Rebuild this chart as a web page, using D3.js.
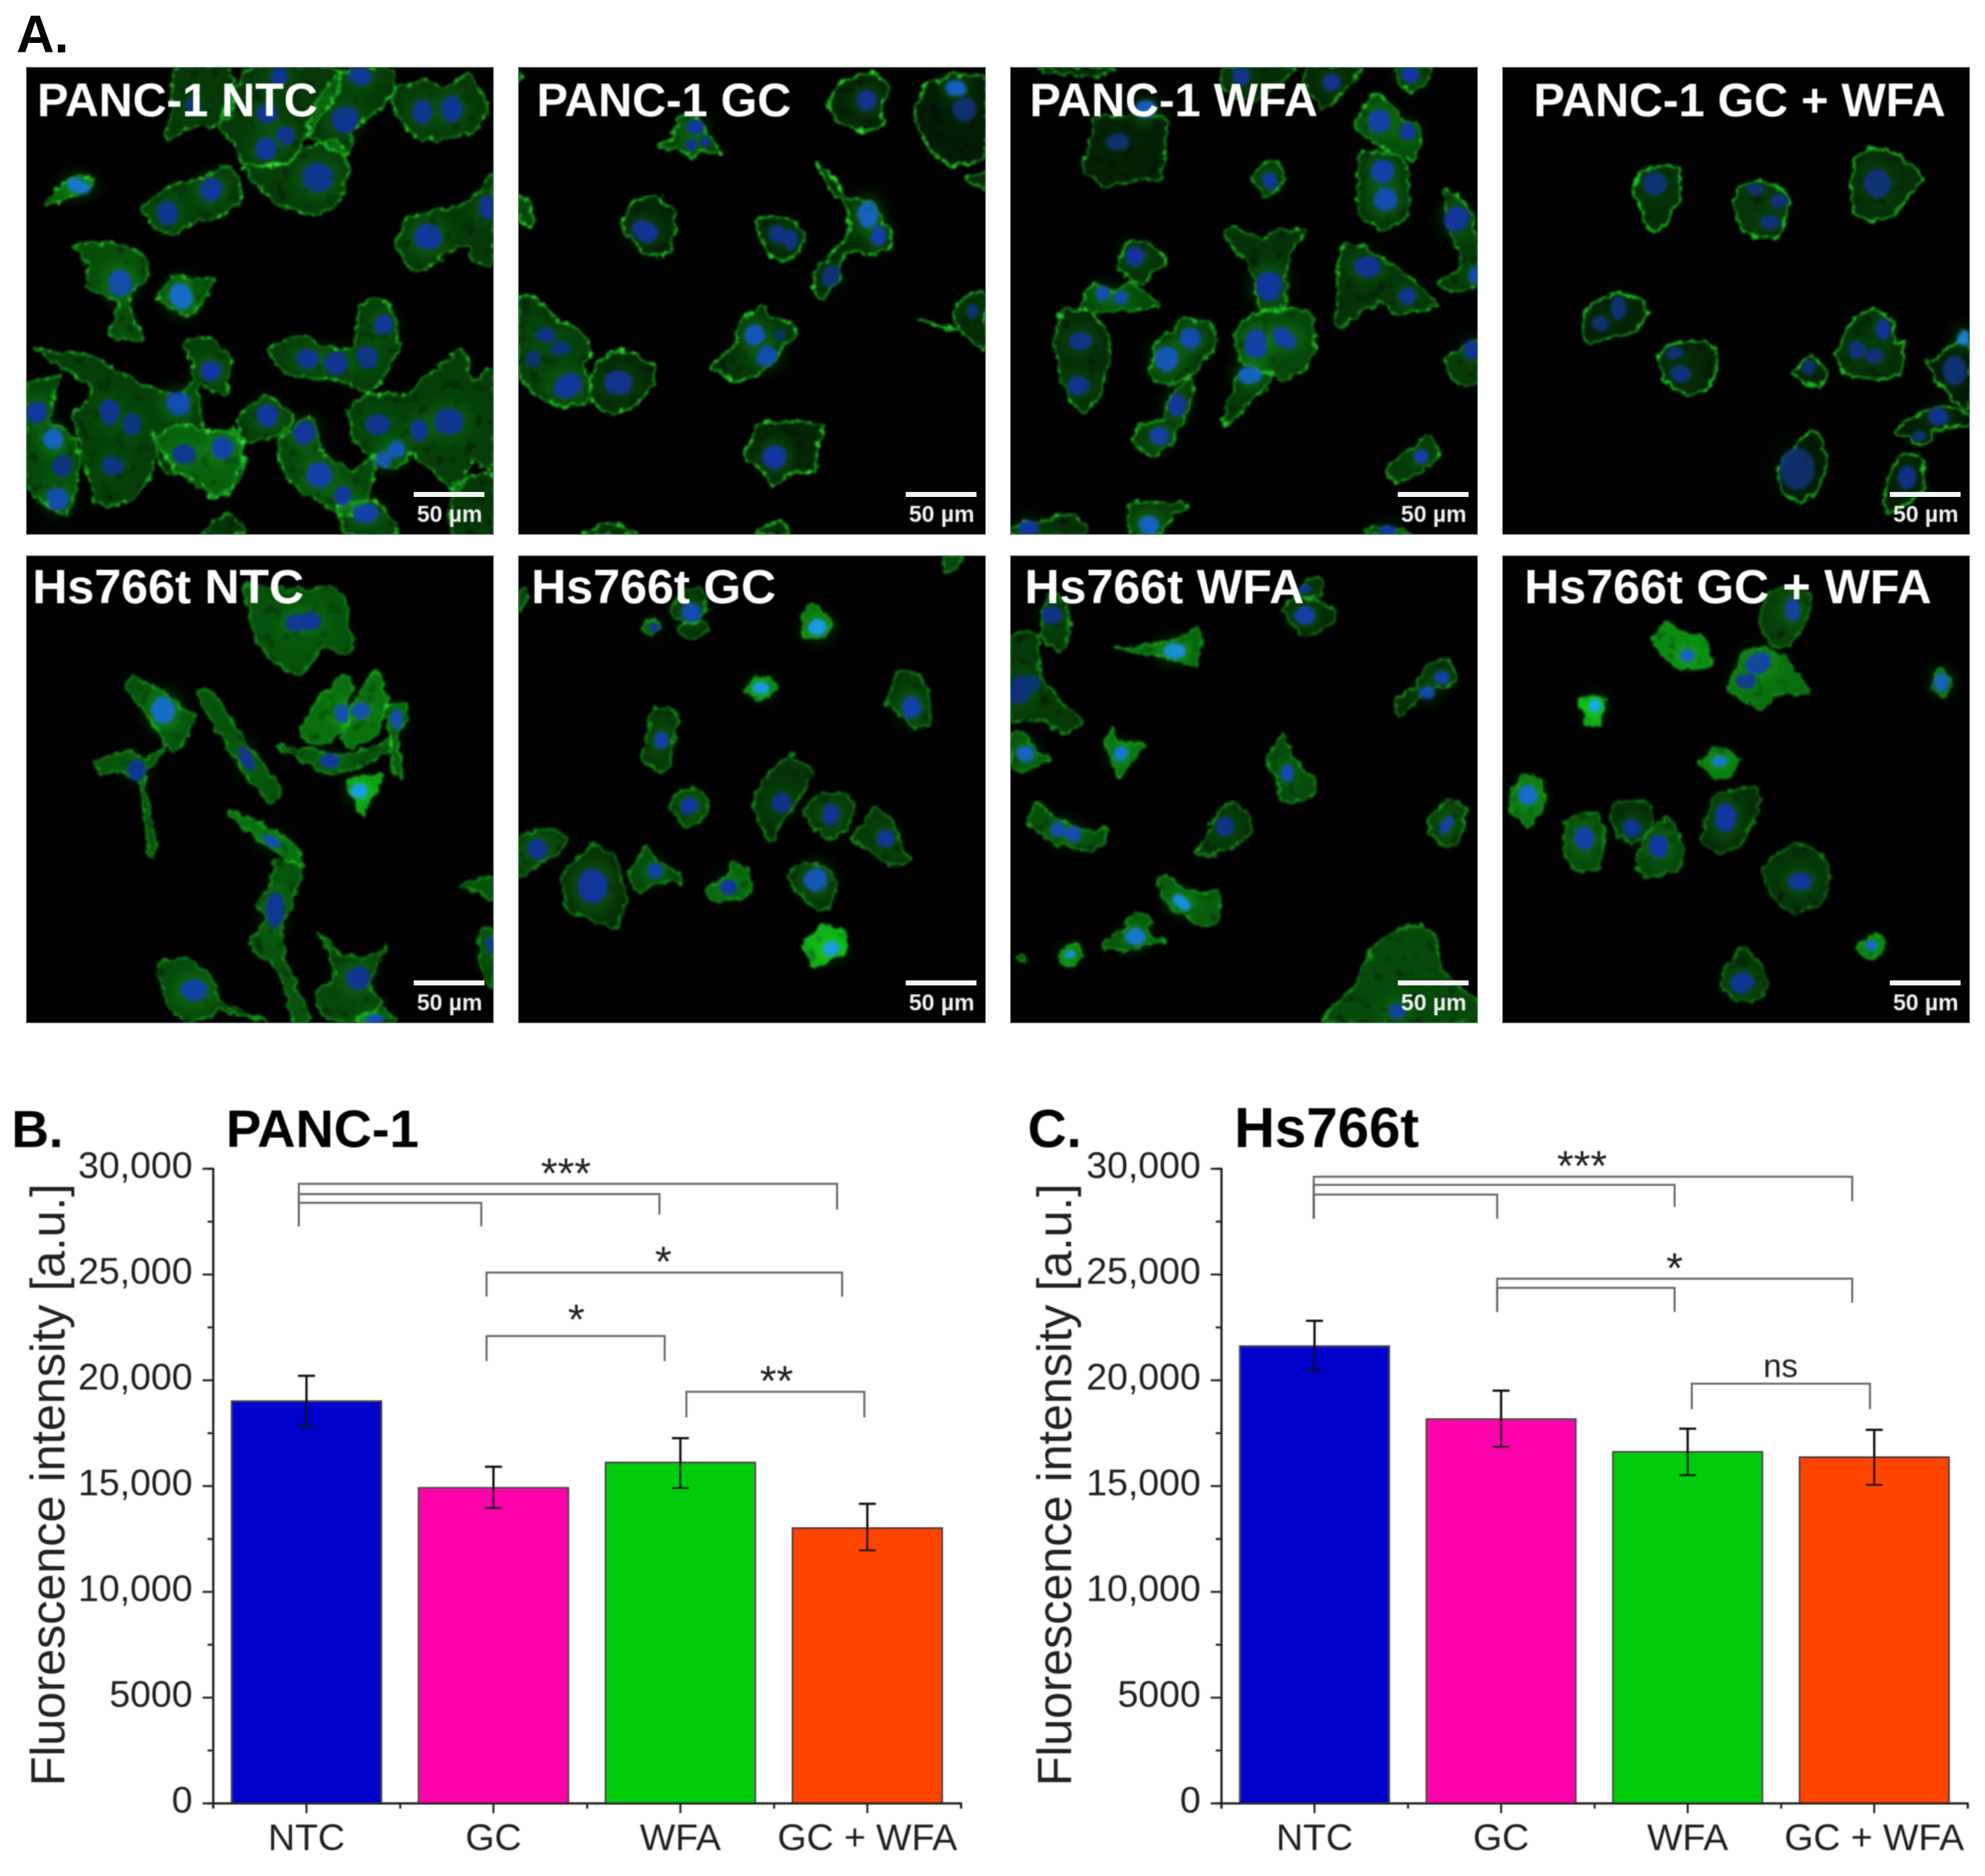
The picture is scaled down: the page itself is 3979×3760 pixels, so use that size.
<!DOCTYPE html>
<meta charset="utf-8">
<style type="text/css">
  body { margin: 0; background: #fff; }
  text { font-family: "Liberation Sans", Arial, sans-serif; }
  .axis path, .axis line { stroke: #222; stroke-width: 4; }
  .axis text { font-size: 75px; fill: #222; }
</style>
<body></body>
<script src="https://d3js.org/d3.v7.min.js"></script>
<script>

// bar chart values
var categories = ["NTC", "GC", "WFA", "GC + WFA"];
var barColors = ["#0000cc", "#ff00aa", "#00cc11", "#ff4400"];
var yMajorTicks = [0, 5000, 10000, 15000, 20000, 25000, 30000];
var yMinorTicks = [2500, 7500, 12500, 17500, 22500, 27500];

var panc1Means = [19000, 14900, 16100, 13000];
var panc1Upper = [20200, 15900, 17250, 14150];
var panc1Lower = [17800, 13950, 14900, 11950];
var hs766tMeans = [21600, 18150, 16600, 16350];
var hs766tUpper = [22800, 19500, 17700, 17650];
var hs766tLower = [20450, 16850, 15500, 15050];

// brackets: from / to in category position, top value, left foot, right foot
var panc1Brackets = [
  [-0.041, 2.838, 29274, 27264, 28063],
  [-0.041, 1.888, 28789, 27264, 27821],
  [-0.041, 0.935, 28378, 27264, 27264],
  [0.963, 2.865, 25085, 23947, 23947],
  [0.963, 1.916, 22082, 20896, 20896],
  [2.032, 2.984, 19443, 18232, 18232]
];
var panc1Marks = [["***", 1.388, 30048], ["*", 1.909, 25884], ["*", 1.443, 23148], ["**", 2.514, 20242]];
var hs766tBrackets = [
  [-0.004, 2.882, 29613, 27627, 28450],
  [-0.004, 1.930, 29225, 27627, 28184],
  [-0.004, 0.979, 28765, 27627, 27627],
  [0.979, 2.882, 24794, 23220, 23656],
  [0.979, 1.930, 24358, 23220, 23220],
  [2.022, 2.977, 19830, 18620, 18620]
];
var hs766tMarks = [["***", 1.434, 30412], ["*", 1.930, 25569], ["ns", 2.498, 20557]];

// micrographs, in image units 0-157
// cell = [fill level, x,y, x,y, ...]   nucleus = [x, y, rx, ry, angle, level]
var cellsPanc1Ntc = [
  [.3, 50,0, 68,0, 70,12, 66,19, 55,20, 47,24, 49,12],
  [.3, 65,19, 75,0, 102,0, 106,6, 100,15, 95,22, 90,30, 85,33, 73,32, 70,26],
  [.32, 73,33, 85,33, 92,28, 103,24, 107,28, 108,35, 106,44, 100,49, 93,49, 85,46, 80,42],
  [.3, 100,8, 105,2, 122,0, 124,8, 120,13, 110,21, 108,30, 100,26, 94,22],
  [.3, 123,8, 135,4, 141,7, 148,2, 155,12, 152,20, 142,24, 132,24, 125,17],
  [.32, 39,47, 48,40, 58,38, 68,33, 72,38, 72,44, 66,50, 56,52, 50,56, 44,55, 41,50],
  [.5, 6,46, 10,41, 15,37, 20,37, 23,38, 19,42, 10,46],
  [.42, 16,60, 25,59, 33,60, 40,64, 41,70, 35,76, 36,85, 39,90, 39,92, 30,91, 28,90, 31,80, 27,77, 20,74, 21,67],
  [.42, 44,77, 49,70, 55,71, 63,72, 58,80, 55,84, 50,82],
  [.3, 124,60, 128,51, 140,48, 148,45, 155,38, 157,36, 157,66, 150,64, 148,60, 140,63, 136,67, 130,68],
  [.33, 82,94, 94,90, 100,94, 110,94, 112,80, 120,78, 124,85, 125,95, 120,104, 115,110, 105,105, 90,104, 84,100],
  [.33, 3,95, 15,96, 22,97, 30,102, 40,107, 47,110, 52,113, 56,100, 52,93, 60,91, 68,97, 67,110, 58,107, 60,122, 72,122, 72,135, 64,145, 50,135, 42,123, 44,130, 38,143, 28,148, 23,146, 20,135, 16,117, 22,108],
  [.38, 0,108, 10,104, 12,103, 8,118, 16,125, 18,135, 14,150, 8,148, 0,140],
  [.25, 44,125, 50,120, 60,122, 72,124, 73,136, 65,145, 56,138, 46,135],
  [.32, 72,117, 80,110, 87,115, 90,118, 84,124, 72,126],
  [.38, 85,125, 95,118, 99,125, 100,130, 110,135, 118,130, 113,150, 105,150, 92,142, 86,135],
  [.33, 108,115, 115,110, 128,110, 135,103, 147,95, 150,105, 157,102, 157,135, 150,132, 145,143, 130,130, 125,135, 118,133, 110,125],
  [.33, 105,147, 118,146, 125,157, 108,157],
  [.28, 60,157, 67,150, 74,157],
  [.3, 144,140, 157,137, 157,157, 143,157]
];
var nucleiPanc1Ntc = [
  [112,3,4,3,0,.45], [107,17.5,4.5,4.5,0,.4], [133,15,3.3,4,0,.4], [143,14,3.5,4.5,0,.4], [81,15.5,3.5,3.5,0,.4], [87,23,3,3.3,0,.4],
  [80.5,27.5,3.5,4,0,.45], [98,37,5.3,5,0,.4], [62,41,3.8,3.8,0,.5], [47.5,49,3.5,4,0,.4], [17.5,40,4,2.5,20,.8], [31.5,72.5,4,4.5,0,.6],
  [52,77,3.7,4.5,-20,.75], [135,57,4.5,4.5,0,.5], [155,47,3,4,0,.4], [120,86.5,3.3,3.2,0,.45], [94.5,98,3.8,3.3,0,.4], [104,99.5,4,4,0,.4],
  [114.5,97.5,3.5,4,-20,.35], [62,102,3.5,3.3,0,.5], [51,113,4.2,4,0,.6], [81,117,3.5,3.8,0,.5], [3.5,116,3.5,3.7,0,.5], [9,125,3.3,3.5,0,.7],
  [28,116,3.5,4.5,0,.35], [35.5,120,3.2,3.8,0,.3], [12,134,3.5,3.7,0,.3], [10.5,145,3.8,3.7,0,.6], [29,134,3.8,3.2,0,.3], [53,130,4,3.2,0,.4],
  [66,128,3.8,3.8,0,.55], [93.5,123,3.7,3.8,0,.5], [118,120,4.3,3.6,0,.35], [132,122,3,3.7,0,.4], [142,119,5,4.5,0,.4], [124.5,128.5,3,2.8,0,.65],
  [120,132,2.7,2.8,0,.65], [98.5,137,4.3,4.3,0,.55], [106.5,144,3,3.2,0,.5], [114,150,4.3,3.3,0,.55], [85,3,3,3,0,.4], [56,13,2.5,3,0,.3]
];

var cellsPanc1Gc = [
  [.4, 54,16, 60,17, 64,23, 68,29, 60,28, 58,31, 56,28, 47,27, 53,22],
  [.2, 104,13, 108,5, 118,2, 125,6, 122,14, 122,20, 115,21, 108,18],
  [.15, 133,15, 137,6, 145,3, 157,4, 157,30, 145,33, 138,27],
  [.25, 150,37, 157,35, 157,41, 153,39],
  [.4, 0,43, 3,44, 6,52, 4,54, 0,51],
  [.2, 35,53, 38,46, 45,43, 50,46, 53,52, 52,60, 50,63, 44,63, 38,58],
  [.2, 80,51, 90,51, 96,56, 94,62, 88,65, 83,62],
  [.25, 100,32, 106,37, 110,44, 118,45, 122,50, 125,55, 125,60, 120,63, 112,62, 108,65, 108,70, 102,78, 99,75, 100,68, 106,62, 111,55, 110,47, 104,40],
  [.28, 65,100, 72,94, 75,85, 82,80, 85,84, 92,86, 93,90, 88,96, 84,100, 80,104, 72,105, 68,102],
  [.25, 146,82, 152,76, 157,77, 157,95, 150,90, 135,85, 148,88],
  [.2, 76,131, 80,120, 88,119, 102,120, 100,130, 100,136, 92,136, 86,140, 80,134],
  [.33, 0,78, 5,77, 12,84, 20,88, 25,96, 22,100, 25,108, 22,113, 14,114, 6,110, 0,102],
  [.22, 26,100, 35,95, 45,100, 45,107, 40,113, 36,116, 28,115, 24,110],
  [.25, 22,157, 30,153, 40,157],
  [.25, 80,157, 88,152, 91,157],
  [.3, 0,2, 2,3, 0,5]
];
var nucleiPanc1Gc = [
  [59.5,20,3,2.5,0,.5], [58,26,2,2,0,.4], [63,25,1.8,1.8,0,.3], [117,11,3.5,3.5,0,.4], [147,7,3.5,2.5,0,.7], [150,14,4,4,0,.15],
  [42.5,55,4.5,3.5,30,.4], [87,56,3,3,0,.3], [91.5,58,2.5,3.5,0,.3], [117.5,49.5,3.5,4.5,0,.7], [121,56.5,2.5,3.5,0,.55], [105,70,3,4,30,.2],
  [79.5,90,3.5,3.7,0,.65], [83.5,97,3.7,3.3,-40,.6], [88,90,2,2,0,.2], [9,90,3.5,2.5,0,.3], [14,94.5,3.5,2.5,0,.25], [5,98,2.5,3,0,.2],
  [16.5,107,5,4,-30,.45], [33.5,106,5,4,0,.35], [86,131,4,4,0,.5], [152.5,82,2,2.5,0,.2]
];

var cellsPanc1Wfa = [
  [.18, 24,33, 28,22, 28,17, 40,16, 52,17, 52,30, 50,38, 40,38, 32,40],
  [.25, 72,0, 95,0, 90,5, 82,12, 72,8],
  [.22, 100,0, 118,0, 112,8, 105,14, 100,8],
  [.3, 130,0, 141,0, 140,5, 135,8, 130,5],
  [.2, 9,0, 34,0, 30,3, 15,2],
  [.4, 116,20, 122,9, 128,12, 131,17, 137,19, 138,26, 135,31, 125,27],
  [.28, 117,30, 122,28, 132,31, 134,40, 133,50, 125,55, 117,48],
  [.3, 81,37, 86,32, 90,32, 92,37, 89,42, 86,43],
  [.3, 146,42, 150,43, 155,50, 157,60, 157,72, 150,76, 144,73, 152,66, 148,56],
  [.28, 112,59, 125,64, 135,71, 142,78, 144,80, 130,83, 124,79, 110,88, 109,83],
  [.28, 72,56, 75,54, 85,58, 87,55, 99,55, 93,65, 93,78, 92,82, 84,82, 82,70],
  [.25, 36,65, 40,59, 46,59, 52,64, 52,66, 47,70, 44,73, 36,68],
  [.4, 23,81, 28,73, 35,76, 40,72, 43,74, 50,80, 40,82, 30,82],
  [.25, 18,81, 28,83, 33,90, 33,100, 30,110, 24,116, 18,108, 16,100, 15,90],
  [.3, 47,100, 50,92, 58,85, 66,85, 69,92, 66,98, 60,104, 53,107, 48,105],
  [.3, 53,112, 60,105, 62,110, 58,118, 55,125, 48,131, 41,125, 44,120, 52,118],
  [.38, 75,90, 80,84, 90,81, 100,82, 103,90, 100,100, 92,105, 84,102, 78,99],
  [.3, 71,119, 75,108, 77,103, 85,102, 88,105, 78,115, 75,120],
  [.3, 126,135, 135,128, 141,124, 144,131, 138,136, 130,140],
  [.3, 146,98, 157,92, 157,106, 150,106],
  [.3, 40,147, 45,146, 60,147, 55,150, 50,157, 40,157],
  [.25, 0,155, 20,150, 25,157, 0,157],
  [.3, 120,155, 130,155, 135,157, 120,157]
];
var nucleiPanc1Wfa = [
  [36,25,4,3,0,.12], [45.5,14,3.5,3,0,.7], [87,38,2.5,3,0,.45], [108,5,3,3,0,.35], [77.5,3,3,3,0,.35], [134.5,2.5,3,3,0,.5],
  [124,18,3.8,4,0,.55], [133.5,21.5,2.7,3,0,.5], [125,35,4,4,0,.55], [126,44.5,4,4,0,.6], [150,51,4,4.5,40,.45], [120,67,4.5,3.5,0,.4],
  [133.5,77,3,3,0,.4], [156,70,2,3,0,.6], [42,63.5,3.2,3.2,0,.45], [31,76,2.2,2.7,0,.6], [37,77.5,2.5,2.3,0,.6], [87,73.5,4.5,5,0,.5],
  [23.5,92,4,3,0,.35], [23,107,3.7,3.2,0,.35], [60.5,91,3.5,3.5,0,.6], [52.5,98,4,4.2,0,.65], [82.5,93,3.7,5,0,.55], [92,91,4.5,3,40,.55],
  [80.5,103.5,4,3,0,.7], [56,113.5,3,3.8,0,.5], [50,124,3.2,3,0,.55], [138,131,2.5,2.4,0,.55], [155,95,2.5,3.5,0,.4], [46.5,154,3.5,3.5,0,.7],
  [6,155,3.5,2.5,0,.5], [127,156,3,2,0,.5]
];

var cellsPanc1GcWfa = [
  [.25, 44,42, 46,36, 52,33, 59,34, 60,40, 58,47, 53,54, 50,55, 47,49],
  [.28, 78,46, 80,40, 87,38, 94,41, 96,46, 94,55, 92,57, 85,57, 80,54],
  [.25, 117,42, 119,30, 124,27, 132,29, 137,32, 141,37, 136,44, 131,50, 124,52, 119,49],
  [.18, 27,89, 29,80, 40,76, 47,79, 49,83, 44,89, 36,91, 30,93],
  [.2, 52,98, 57,93, 65,92, 70,93, 72,100, 70,107, 64,110, 56,107],
  [.18, 98,103, 104,97, 109,102, 108,106, 106,108, 100,105],
  [.25, 113,95, 118,84, 125,81, 131,85, 132,92, 135,93, 134,103, 125,105, 115,103, 112,97],
  [.12, 143,100, 152,93, 157,92, 157,115, 150,110],
  [.15, 132,122, 140,117, 148,114, 157,117, 157,120, 146,122, 142,127, 137,125],
  [.12, 92,138, 96,130, 103,123, 107,125, 109,135, 105,143, 100,146, 95,143],
  [.15, 130,137, 134,130, 140,131, 142,138, 141,143, 135,147, 130,150, 128,145]
];
var nucleiPanc1GcWfa = [
  [51,39,4,4,0,.2], [39,81,2.5,4,0,.2], [33,86,3,2.5,0,.15], [93,45,3,2.5,0,.2], [90,52,3.5,2.5,0,.2], [85,41,3,2,0,.15],
  [126,39,4.5,5,0,.2], [60,103,3.5,3,0,.25], [58,96,3,2,0,.2], [128,88,2.5,3.5,0,.4], [119,95,3,3,0,.25], [125,97,3,2.5,0,.25],
  [103,101,2.5,2.5,0,.15], [155,91,2,2.5,0,.85], [152,102,4,5,0,.2], [146.5,117.5,3.3,3,0,.4], [140,124,2.5,2,0,.2], [99,135,6,7,0,.12],
  [136,138,3,4,0,.3]
];

var cellsHs766tNtc = [
  [.45, 73,10, 85,11, 105,11, 108,20, 110,30, 107,33, 100,31, 92,40, 85,37, 78,30, 75,20],
  [.45, 33,43, 37,41, 45,45, 55,53, 57,54, 53,63, 48,66, 44,58, 36,48],
  [.45, 58,45, 62,45, 72,60, 85,77, 85,81, 82,83, 77,78, 65,60, 58,48],
  [.45, 23,70, 28,67, 35,66, 40,68, 46,64, 44,69, 40,73, 40,78, 42,90, 44,98, 41,101, 40,90, 38,76, 32,73, 25,73],
  [.6, 92,59, 98,48, 107,40, 110,45, 108,50, 108,55, 105,60, 100,63, 95,63],
  [.6, 106,62, 112,45, 118,39, 120,42, 121,50, 118,60, 110,64],
  [.5, 121,50, 128,50, 128,55, 125,60, 126,72, 125,75, 123,70, 122,60],
  [.45, 84,64, 95,65, 105,67, 120,63, 122,60, 122,65, 110,72, 100,73, 92,68],
  [.85, 108,75, 120,74, 116,82, 113,88, 110,82],
  [.6, 68,87, 72,87, 88,95, 93,102, 93,104, 88,102, 75,93],
  [.45, 84,102, 92,104, 90,115, 86,125, 87,135, 93,150, 96,155, 90,157, 85,140, 75,131, 81,122, 77,118, 82,110],
  [.4, 44,138, 53,135, 63,142, 65,150, 82,157, 66,153, 55,157, 48,152],
  [.38, 98,126, 105,134, 115,135, 121,131, 115,145, 120,150, 115,157, 100,155, 97,148, 104,140],
  [.45, 146,110, 157,108, 157,115, 150,113],
  [.4, 152,127, 157,125, 157,145, 153,140],
  [.45, 112,155, 120,152, 124,157, 112,157]
];
var nucleiHs766tNtc = [
  [90.5,22.5,3.5,3,0,.45], [95.5,22,3.5,3.2,0,.45], [46,52,4,4.5,0,.75], [74,68,2,4.5,-25,.4], [37,72,3,3.5,0,.4], [106,53,2.5,3.2,0,.6],
  [112.5,52,3,2.7,0,.6], [124.5,55,2,3.3,0,.6], [102,69,3.2,2.5,0,.5], [112,79,3,2.5,0,.95], [82.5,96,3.5,1.8,30,.6], [83.5,119,3,6,0,.4],
  [56.5,146,4.5,3.7,0,.55], [111.5,142,4,4,0,.4], [117,156,3,2,0,.6], [156,131,1.5,3,0,.5]
];

var cellsHs766tGc = [
  [.25, 52,17, 56,12, 62,11, 63,17, 60,22, 53,22],
  [.25, 54,25, 56,22, 62,22, 64,25, 60,28, 56,28],
  [.5, 42,24, 45,21, 48,24, 45,27],
  [.6, 95,22, 97,17, 101,17, 105,22, 103,27, 100,28, 96,27],
  [.7, 77,45, 80,41, 85,41, 87,45, 83,48, 80,49],
  [.3, 124,50, 127,40, 133,39, 138,46, 139,56, 135,58, 130,55],
  [.3, 42,68, 45,52, 50,51, 54,55, 51,65, 52,70, 48,73],
  [.35, 51,84, 55,78, 61,79, 64,85, 60,90, 56,91],
  [.28, 79,82, 85,72, 92,67, 99,73, 95,80, 88,90, 85,96, 82,92],
  [.3, 96,86, 102,80, 110,80, 113,86, 110,92, 103,95],
  [.3, 112,95, 120,85, 126,90, 131,102, 125,104, 116,98],
  [.35, 0,95, 10,92, 16,94, 14,100, 8,103, 0,108],
  [.25, 15,107, 25,97, 33,102, 36,115, 33,125, 23,122, 16,118],
  [.4, 37,107, 43,98, 47,103, 55,107, 54,110, 45,110, 42,114, 39,112],
  [.55, 63,112, 70,108, 72,103, 77,105, 79,112, 75,115, 65,116],
  [.25, 91,107, 97,103, 105,106, 107,112, 105,118, 100,119, 94,113],
  [.95, 96,130, 103,124, 110,127, 110,133, 100,138, 97,135],
  [.4, 143,0, 149,0, 147,5, 143,5],
  [.4, 0,13, 3,11, 3,15, 0,18]
];
var nucleiHs766tGc = [
  [58,19,3.3,3.3,0,.6], [45.5,24,1.7,1.7,0,.5], [100.5,24,3.2,2.8,0,.95], [81.5,44.5,3,2,0,.95], [132,51,3.3,3.8,0,.55], [48,62,2.5,3,0,.55],
  [57.5,84,3,3,0,.5], [88.5,83,3.5,3.5,0,.3], [105,87,3,3.7,0,.4], [123.5,95,3,3,0,.45], [6.5,98.5,3.5,3.3,0,.4], [25,111,5,6,0,.45],
  [46,106,2.7,2.5,0,.55], [70.5,111.5,3,2.5,0,.5], [100,109,4,4,0,.65], [105,132,3,2.5,-20,.95]
];

var cellsHs766tWfa = [
  [.3, 10,25, 13,13, 18,15, 20,22, 19,30, 16,32, 11,28],
  [.3, 0,28, 9,26, 10,40, 15,47, 24,56, 18,60, 10,55, 0,55],
  [.55, 35,31, 47,30, 58,27, 62,24, 64,27, 62,37, 52,34],
  [.22, 92,18, 97,14, 106,16, 109,21, 105,25, 98,27],
  [.25, 97,12, 100,8, 105,8, 105,13, 100,14],
  [.25, 140,36, 147,35, 150,42, 146,44, 140,45, 138,48, 131,54, 129,52, 130,48, 137,43],
  [.45, 0,60, 4,59, 9,66, 13,68, 8,71, 4,73, 0,70],
  [.6, 32,63, 35,58, 37,63, 45,63, 40,70, 37,75],
  [.4, 86,68, 92,60, 95,68, 102,75, 102,80, 95,83, 90,81, 90,75],
  [.42, 6,90, 9,83, 15,88, 25,92, 32,91, 32,96, 28,99, 16,97],
  [.28, 63,99, 70,86, 75,83, 80,87, 81,93, 75,98, 66,101],
  [.35, 141,88, 147,82, 153,85, 152,92, 151,96, 146,98, 141,94],
  [.5, 49,110, 52,108, 60,113, 70,113, 70,122, 65,125, 58,120, 53,118],
  [.45, 31,131, 38,125, 42,120, 47,122, 46,127, 52,129, 45,131, 36,133],
  [.7, 16,135, 19,131, 23,131, 24,135, 22,137, 18,138],
  [.4, 1,135, 5,134, 6,136, 2,137],
  [.4, 106,157, 115,145, 123,130, 135,124, 142,127, 146,140, 157,150, 157,157]
];
var nucleiHs766tWfa = [
  [14,20,3.5,3,0,.3], [3,45,4,5,0,.2], [7,43,3,3,0,.2], [3,47,3,3,0,.2], [55,32,4,2.5,0,.9], [99,20,3.5,3,0,.55],
  [99,11,2,1.5,0,.4], [145,41,2.5,2.3,0,.55], [140,46,2.7,2.3,0,.6], [5,66.5,3,2.7,0,.7], [37,66.5,2.5,2.5,0,.8], [93,73,2.2,3,0,.6],
  [16,92,2.5,2.7,0,.6], [21,93.5,2.7,2.5,0,.6], [72,91,3.2,3.3,0,.35], [146.5,90.5,1.8,3.5,30,.55], [57.5,116.5,3.5,2.2,40,.9], [42,128,3.3,3,0,.8],
  [20,134,2,1.5,0,.9], [130,153,3,2.5,0,.55]
];

var cellsHs766tGcWfa = [
  [.35, 86,22, 90,12, 100,10, 104,14, 102,22, 96,31, 90,30],
  [.75, 50,28, 55,22, 60,26, 68,27, 70,35, 70,37, 60,38, 53,33],
  [.6, 76,45, 80,33, 87,31, 95,34, 101,42, 102,46, 92,47, 88,52, 84,50],
  [.5, 144,42, 147,38, 151,42, 151,44, 148,48, 146,46],
  [.95, 26,48, 31,47, 35,49, 33,52, 33,57, 28,57, 27,52],
  [.65, 66,70, 71,65, 75,65, 80,69, 77,74, 72,75],
  [.6, 3,80, 7,73, 13,76, 14,83, 11,89, 9,91, 3,87],
  [.4, 21,90, 27,86, 33,88, 34,97, 32,105, 25,106, 21,100],
  [.25, 36,85, 42,82, 50,84, 50,92, 44,97, 38,92],
  [.38, 45,102, 48,95, 55,88, 60,94, 61,102, 58,106, 50,108, 46,106],
  [.25, 67,95, 72,80, 85,78, 86,85, 80,97, 74,100],
  [.28, 88,105, 97,97, 106,99, 110,107, 107,117, 97,120, 90,114],
  [.7, 119,132, 123,128, 128,128, 128,133, 123,136],
  [.28, 73,143, 80,132, 87,137, 89,145, 85,150, 78,149]
];
var nucleiHs766tGcWfa = [
  [97.5,18,2.5,4,0,.55], [62,33.5,2.7,2.3,0,.7], [86,36,4.5,3.5,-30,.55], [82,42,3.5,2.5,0,.45], [147.5,42.5,2.5,3,0,.7], [31,50.5,2,2.5,0,1],
  [73,69,2.7,2,0,.8], [8.5,80.5,3.3,3.5,0,.75], [27.5,95,3.3,4,0,.55], [43.5,91.5,3,3.2,0,.4], [52.5,97.5,3.3,4,0,.5], [75,88,3.5,5,0,.5],
  [100,109.5,4,3,0,.45], [124,131,2.2,1.7,0,.75], [80.5,143.5,4,3.5,0,.4]
];

var panelLabels = ["PANC-1 NTC", "PANC-1 GC", "PANC-1 WFA", "PANC-1 GC + WFA", "Hs766t NTC", "Hs766t GC", "Hs766t WFA", "Hs766t GC + WFA"];
var panelLabelX = [3.6, 6.1, 6.4, 10.4, 2, 4.3, 4.7, 7.3];
var panelCells = [cellsPanc1Ntc, cellsPanc1Gc, cellsPanc1Wfa, cellsPanc1GcWfa, cellsHs766tNtc, cellsHs766tGc, cellsHs766tWfa, cellsHs766tGcWfa];
var panelNuclei = [nucleiPanc1Ntc, nucleiPanc1Gc, nucleiPanc1Wfa, nucleiPanc1GcWfa, nucleiHs766tNtc, nucleiHs766tGc, nucleiHs766tWfa, nucleiHs766tGcWfa];
var panelEdge = [.6, .8, .65, .95, .6, .6, .6, .5];
var panelSpots = [.7, .85, .6, .25, .1, .1, .25, .1];

var svg = d3.select("body").append("svg")
  .attr("width", 3979)
  .attr("height", 3760)
  .style("display", "block");

var defs = svg.append("defs");
function blur(id, sd) {
  defs.append("filter").attr("id", id)
    .attr("x", "-5%").attr("y", "-5%").attr("width", "110%").attr("height", "110%")
    .append("feGaussianBlur").attr("stdDeviation", sd);
}
blur("glow", 14);
blur("txt", 1);

// jagged outlines and mottled staining, so the cells don't look like cut paper
function cellFilter(id, seed, wobble, slope, soft) {
  var f = defs.append("filter").attr("id", id)
    .attr("x", "-5%").attr("y", "-5%").attr("width", "110%").attr("height", "110%")
    .attr("color-interpolation-filters", "sRGB");
  f.append("feTurbulence").attr("type", "fractalNoise").attr("baseFrequency", .05)
    .attr("numOctaves", 3).attr("seed", seed).attr("result", "wobble");
  f.append("feDisplacementMap").attr("in", "SourceGraphic").attr("in2", "wobble")
    .attr("scale", wobble).attr("xChannelSelector", "R").attr("yChannelSelector", "G").attr("result", "moved");
  f.append("feTurbulence").attr("type", "fractalNoise").attr("baseFrequency", .04)
    .attr("numOctaves", 4).attr("seed", seed + 20).attr("result", "stain");
  f.append("feColorMatrix").attr("in", "stain").attr("type", "matrix")
    .attr("values", "0 0 0 0 1  0 0 0 0 1  0 0 0 0 1  " + slope + " 0 0 0 " + (1.15 - slope * .5)).attr("result", "mask");
  f.append("feComposite").attr("in", "moved").attr("in2", "mask").attr("operator", "in").attr("result", "stained");
  f.append("feGaussianBlur").attr("in", "stained").attr("stdDeviation", soft);
}

// micrograph panels
var panelSize = 936;
var panelX = d3.scalePoint().domain([0, 1, 2, 3]).range([53, 3012]);
var panelY = d3.scalePoint().domain([0, 1]).range([135, 1114]);
var px = d3.scaleLinear().domain([0, 157]).range([0, panelSize]);
var nucleusColor = d3.scaleLinear().domain([0, .5, 1]).range(["#0c2f5c", "#1434a8", "#19a6f5"]);

var cellLine = d3.line().curve(d3.curveCardinalClosed.tension(.45))
  .x(function(p) { return px(p[0]); })
  .y(function(p) { return px(p[1]); });

function cellPoints(c) {
  var pts = [];
  for (var i = 1; i < c.length; i += 2) pts.push([c[i], c[i + 1]]);
  return pts;
}

panelLabels.forEach(function(label, i) {
  var row = i < 4 ? 0 : 1, col = i % 4;
  var g = svg.append("g").attr("transform", "translate(" + panelX(col) + "," + panelY(row) + ")");

  cellFilter("cellTex" + i, i + 2, 20, 1.8, 2.6);
  cellFilter("nucTex" + i, i + 40, 6, 1.2, 3.2);
  defs.append("clipPath").attr("id", "clip" + i)
    .append("rect").attr("width", panelSize).attr("height", panelSize);

  g.append("rect").attr("width", panelSize).attr("height", panelSize).attr("fill", "#000");

  var art = g.append("g").attr("clip-path", "url(#clip" + i + ")");

  var cells = art.append("g").attr("filter", "url(#cellTex" + i + ")").style("isolation", "isolate");
  var cellSel = cells.selectAll("g").data(panelCells[i]).enter().append("g")
    .style("mix-blend-mode", "screen");
  cellSel.append("path")
    .attr("d", function(c) { return cellLine(cellPoints(c)); })
    .attr("fill", "#10b818")
    .attr("fill-opacity", function(c) { return c[0]; })
    .attr("stroke", "#1fd024")
    .attr("stroke-opacity", panelEdge[i])
    .attr("stroke-width", 4);
  // bright adhesion spots along the cell edge
  cellSel.append("path")
    .attr("d", function(c) { return cellLine(cellPoints(c)); })
    .attr("fill", "none")
    .attr("stroke", "#34ee34")
    .attr("stroke-linecap", "round")
    .attr("stroke-width", 7)
    .attr("stroke-dasharray", "0.1 22 0.1 47 0.1 15 0.1 61 0.1 30")
    .attr("opacity", panelSpots[i]);

  // soft green haze around each nucleus
  art.append("g").attr("filter", "url(#glow)").style("mix-blend-mode", "screen")
    .selectAll("ellipse").data(panelNuclei[i]).enter().append("ellipse")
    .attr("cx", function(n) { return px(n[0]); })
    .attr("cy", function(n) { return px(n[1]); })
    .attr("rx", function(n) { return px(n[2] * 1.6); })
    .attr("ry", function(n) { return px(n[3] * 1.6); })
    .attr("fill", "#20d020")
    .attr("opacity", function(n) { return n[5] * .35; });

  art.append("g").attr("filter", "url(#nucTex" + i + ")")
    .selectAll("ellipse").data(panelNuclei[i]).enter().append("ellipse")
    .attr("transform", function(n) { return "translate(" + px(n[0]) + "," + px(n[1]) + ") rotate(" + n[4] + ")"; })
    .attr("rx", function(n) { return px(n[2]); })
    .attr("ry", function(n) { return px(n[3]); })
    .attr("fill", function(n) { return nucleusColor(n[5]); })
    .attr("opacity", .95);

  g.append("rect").attr("width", panelSize).attr("height", panelSize)
    .attr("fill", "none").attr("stroke", "#5c6e6c").attr("stroke-width", 1.5);

  g.append("text")
    .attr("x", px(panelLabelX[i]))
    .attr("y", px(row ? 16 : 16.5))
    .attr("font-size", row ? 97 : 94)
    .attr("font-weight", "bold")
    .attr("fill", "#fff")
    .attr("filter", "url(#txt)")
    .text(label);

  g.append("line")
    .attr("x1", px(130.2)).attr("x2", px(154))
    .attr("y1", px(143.6)).attr("y2", px(143.6))
    .attr("stroke", "#f4f4f4").attr("stroke-width", 10);
  g.append("text")
    .attr("x", px(142.3)).attr("y", px(152.8))
    .attr("text-anchor", "middle")
    .attr("font-size", 46)
    .attr("font-weight", "bold")
    .attr("fill", "#eee")
    .attr("filter", "url(#txt)")
    .text("50 \u00b5m");
});

// bar charts
function drawBars(opts) {
  var xBand = d3.scaleBand().domain(categories).range(opts.xRange).paddingInner(.2).paddingOuter(.1);
  var xPos = d3.scaleLinear().domain([-.5, 3.5]).range(opts.xRange);
  var y = d3.scaleLinear().domain([0, 30000]).range([3614, 2342]);
  var g = svg.append("g").attr("filter", "url(#txt)");

  g.selectAll("rect.bar").data(opts.means).enter().append("rect")
    .attr("class", "bar")
    .attr("x", function(d, i) { return xBand(categories[i]); })
    .attr("y", function(d) { return y(d); })
    .attr("width", xBand.bandwidth())
    .attr("height", function(d) { return y(0) - y(d); })
    .attr("fill", function(d, i) { return barColors[i]; })
    .attr("stroke", "#3a3a3a")
    .attr("stroke-width", 3.5);

  // error bars
  var errors = g.selectAll("g.err").data(opts.means).enter().append("g").attr("class", "err");
  errors.append("line")
    .attr("x1", function(d, i) { return xPos(i); })
    .attr("x2", function(d, i) { return xPos(i); })
    .attr("y1", function(d, i) { return y(opts.upper[i]); })
    .attr("y2", function(d, i) { return y(opts.lower[i]); });
  errors.append("line")
    .attr("x1", function(d, i) { return xPos(i) - 17; })
    .attr("x2", function(d, i) { return xPos(i) + 17; })
    .attr("y1", function(d, i) { return y(opts.upper[i]); })
    .attr("y2", function(d, i) { return y(opts.upper[i]); });
  errors.append("line")
    .attr("x1", function(d, i) { return xPos(i) - 17; })
    .attr("x2", function(d, i) { return xPos(i) + 17; })
    .attr("y1", function(d, i) { return y(opts.lower[i]); })
    .attr("y2", function(d, i) { return y(opts.lower[i]); });
  errors.selectAll("line").attr("stroke", "#111").attr("stroke-width", 4.5);

  // significance brackets
  g.selectAll("path.bracket").data(opts.brackets).enter().append("path")
    .attr("class", "bracket")
    .attr("d", function(b) {
      return d3.line()([[xPos(b[0]), y(b[3])], [xPos(b[0]), y(b[2])], [xPos(b[1]), y(b[2])], [xPos(b[1]), y(b[4])]]);
    })
    .attr("fill", "none")
    .attr("stroke", "#666")
    .attr("stroke-width", 4);

  g.selectAll("text.mark").data(opts.marks).enter().append("text")
    .attr("class", "mark")
    .attr("x", function(m) { return xPos(m[1]); })
    .attr("y", function(m) { return y(m[2]); })
    .attr("dy", function(m) { return m[0] === "ns" ? ".26em" : ".48em"; })
    .attr("text-anchor", "middle")
    .attr("font-size", function(m) { return m[0] === "ns" ? 66 : 86; })
    .attr("fill", "#222")
    .text(function(m) { return m[0]; });

  // axes, minor ticks first so the labels stay on top
  g.append("g").attr("class", "axis")
    .attr("transform", "translate(" + opts.xRange[0] + ",0)")
    .call(d3.axisLeft(y).tickValues(yMinorTicks).tickSize(11).tickFormat(""));
  g.append("g").attr("class", "axis")
    .attr("transform", "translate(" + opts.xRange[0] + ",0)")
    .call(d3.axisLeft(y).tickValues(yMajorTicks).tickSize(21).tickPadding(20).tickSizeOuter(0)
      .tickFormat(function(d) { return d === 5000 ? "5000" : d3.format(",")(d); }))
    .selectAll("text").attr("dy", ".25em");
  g.append("g").attr("class", "axis")
    .attr("transform", "translate(0," + y(0) + ")")
    .call(d3.axisBottom(xPos).tickValues([-.5, .5, 1.5, 2.5, 3.5]).tickSize(11).tickFormat(""));
  g.append("g").attr("class", "axis")
    .attr("transform", "translate(0," + y(0) + ")")
    .call(d3.axisBottom(xBand).tickSize(20).tickPadding(21).tickSizeOuter(0));

  g.append("text")
    .attr("transform", "translate(" + opts.titleX + ",2976) rotate(-90)")
    .attr("text-anchor", "middle")
    .attr("font-size", 97)
    .attr("fill", "#222")
    .text("Fluorescence intensity [a.u.]");

  g.append("text").attr("x", opts.letterX).attr("y", 2299)
    .attr("font-size", opts.letterSize).attr("font-weight", "bold").text(opts.letter);
  g.append("text").attr("x", opts.nameX).attr("y", 2299)
    .attr("font-size", opts.nameSize).attr("font-weight", "bold").text(opts.name);
}

drawBars({
  xRange: [427, 1926], means: panc1Means, upper: panc1Upper, lower: panc1Lower,
  brackets: panc1Brackets, marks: panc1Marks,
  titleX: 129, letter: "B.", letterX: 23, letterSize: 104, name: "PANC-1", nameX: 453, nameSize: 106
});
drawBars({
  xRange: [2448, 3944], means: hs766tMeans, upper: hs766tUpper, lower: hs766tLower,
  brackets: hs766tBrackets, marks: hs766tMarks,
  titleX: 2147, letter: "C.", letterX: 2060, letterSize: 108, name: "Hs766t", nameX: 2474, nameSize: 113
});

svg.append("text").attr("x", 33).attr("y", 105)
  .attr("font-size", 105).attr("font-weight", "bold").text("A.");

</script>
